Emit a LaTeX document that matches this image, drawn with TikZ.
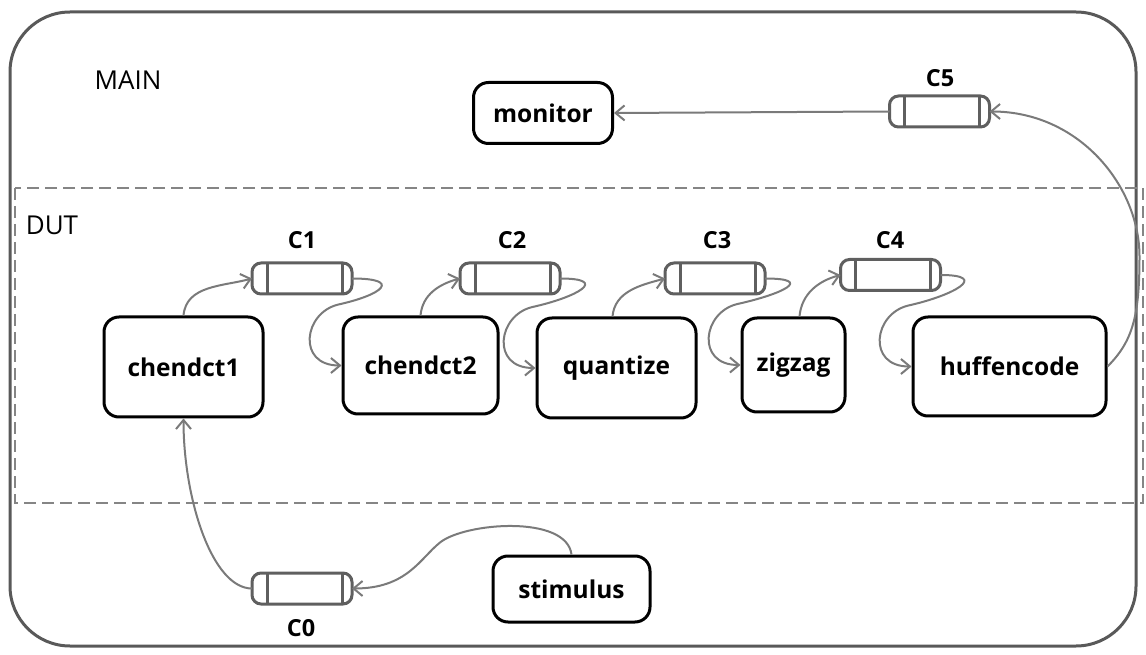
\documentclass[tikz,border=0pt]{standalone}
\usepackage{fontspec}
\setmainfont{Open Sans}
\usetikzlibrary{arrows.meta,calc}
\definecolor{framegray}{HTML}{595959}
\definecolor{changray}{HTML}{5F5F5F}
\definecolor{wiregray}{HTML}{7A7A7A}
\definecolor{dashgray}{HTML}{858585}
\begin{document}
\begin{tikzpicture}[x=1pt,y=1pt,
  proc/.style={draw=black, line width=3pt, rounded corners=15pt, fill=white,
    font=\fontsize{24.5}{28}\selectfont\bfseries, inner sep=0pt},
  chan/.style={draw=changray, line width=3pt, rounded corners=9pt, fill=white,
    minimum width=100pt, minimum height=31pt, inner sep=0pt, outer sep=0pt},
  chanlabel/.style={font=\fontsize{23.5}{26}\selectfont\bfseries},
  region/.style={font=\fontsize{26}{30}\selectfont},
  wire/.style={draw=wiregray, line width=2pt,
    -{Straight Barb[length=9pt,width=15pt,line width=2pt]}}
]
\useasboundingbox (0,0) rectangle (1146,654);

% outer MAIN boundary and dashed DUT region
\draw[framegray, line width=3pt, rounded corners=60pt] (10,642) rectangle (1136,8);
\draw[dashgray, line width=2.5pt, dash pattern=on 12pt off 6pt] (15,466) rectangle (1143,151);
\node[region] (mainlbl) at (128,574) {MAIN};
\node[region] (dutlbl) at (52,429) {DUT};

% processes
\node[proc, minimum width=139pt, minimum height=61pt] (mon) at (543,541) {monitor};
\node[proc, minimum width=159pt, minimum height=100pt] (p1) at (183.5,287) {chendct1};
\node[proc, minimum width=155pt, minimum height=97pt] (p2) at (420.5,288.5) {chendct2};
\node[proc, minimum width=159pt, minimum height=100pt] (p3) at (616.5,286) {quantize};
\node[proc, minimum width=103pt, minimum height=94pt] (p4) at (793.5,289) {zigzag};
\node[proc, minimum width=193pt, minimum height=99pt] (p5) at (1009.5,287.5) {huffencode};
\node[proc, minimum width=157pt, minimum height=66pt] (stim) at (571.5,65) {stimulus};

% channels
\node[chan] (c0) at (302,65.5) {};
\node[chan] (c1) at (302,375.5) {};
\node[chan] (c2) at (510,375.5) {};
\node[chan] (c3) at (715,375.5) {};
\node[chan] (c4) at (890.5,379) {};
\node[chan] (c5) at (939.5,542.5) {};
\foreach \c in {c0,c1,c2,c3,c4,c5}{
  \draw[changray, line width=3pt]
    ([xshift=15pt]\c.north west) -- ([xshift=15pt]\c.south west)
    ([xshift=-10pt]\c.north east) -- ([xshift=-10pt]\c.south east);
}
\node[chanlabel] (l0) at (301,26) {C0};
\node[chanlabel] (l1) at (302,414) {C1};
\node[chanlabel] (l2) at (512,414) {C2};
\node[chanlabel] (l3) at (717,414) {C3};
\node[chanlabel] (l4) at (890,414) {C4};
\node[chanlabel] (l5) at (940,576) {C5};

% producer -> channel
\draw[wire] (p1.north) to[out=85, in=195] (c1.west);
\draw[wire] (p2.north) to[out=85, in=195] (c2.west);
\draw[wire] ([xshift=-4pt]p3.north) to[out=85, in=195] (c3.west);
\draw[wire] ([xshift=6pt]p4.north) to[out=85, in=195] (c4.west);

% channel -> consumer
\foreach \c/\p in {c1/p2, c2/p3, c3/p4, c4/p5}{
  \draw[wire] (\c.east) .. controls +(50,0) and +(45,10) .. ($(\p.west)+(-3,61)$)
    .. controls +(-35,-8) and +(-45,0) .. (\p.west);
}

% huffencode -> C5 -> monitor
\draw[wire] (p5.east) .. controls +(25,25) and +(0,-60) .. ($(p5.east)+(32,110)$)
  .. controls +(0,70) and +(90,0) .. (c5.east);
\draw[wire] (c5.west) -- (mon.east);

% stimulus -> C0 -> chendct1
\draw[wire] (stim.north) .. controls +(-5,40) and +(25,20) .. ($(c0.east)+(88,46)$)
  .. controls +(-20,-16) and +(55,0) .. (c0.east);
\draw[wire] (c0.west) .. controls +(-40,0) and +(0,-80) .. (p1.south);
\end{tikzpicture}
\end{document}
